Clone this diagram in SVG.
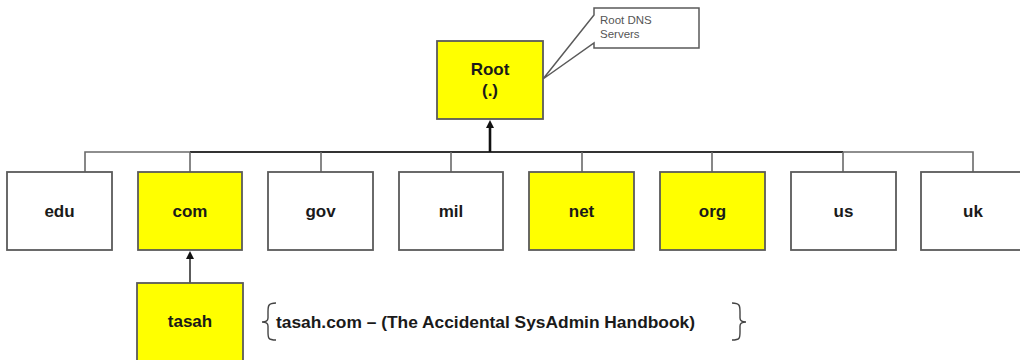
<svg xmlns="http://www.w3.org/2000/svg" width="1020" height="360" viewBox="0 0 1020 360">
<defs>
<style>
.box{stroke:#5a5a5a;stroke-width:1.8}
.y{fill:#ffff00}
.w{fill:#ffffff}
.lbl{font-family:"Liberation Sans",Arial,sans-serif;font-weight:bold;font-size:17px;fill:#1a1a1a;text-anchor:middle}
.thin{stroke:#6a6a6a;stroke-width:1.6;fill:none}
.bus{stroke:#333;stroke-width:2;fill:none}
</style>
<marker id="ah" markerWidth="8" markerHeight="8" refX="4" refY="4" orient="auto" markerUnits="userSpaceOnUse">
<path d="M0,0 L8,4 L0,8 Z" fill="#111"/>
</marker>
</defs>
<rect width="1020" height="360" fill="#fff"/>
<g id="connectors">
<path class="thin" d="M85,172 V152 H190"/>
<path class="bus" d="M190,152 H843"/>
<path class="thin" d="M843,152 H973 V172"/>
<path class="thin" d="M190,152 V172 M321,152 V172 M451,152 V172 M582,152 V172 M712,152 V172 M843,152 V172"/>
<line x1="490" y1="152" x2="490" y2="124" stroke="#111" stroke-width="2.6" marker-end="url(#ah)"/>
<line x1="190" y1="283" x2="190" y2="255" stroke="#333" stroke-width="1.6" marker-end="url(#ah)"/>
</g>
<g id="callout">
<path d="M594,8 H699 V48 H594 V43 L543,79 L594,15 Z" fill="#fff" stroke="#5a5a5a" stroke-width="1.5"/>
<text x="600" y="24" font-family="Liberation Sans,Arial,sans-serif" font-size="11.5" fill="#555">Root DNS</text>
<text x="600" y="38" font-family="Liberation Sans,Arial,sans-serif" font-size="11.5" fill="#555">Servers</text>
</g>
<g id="root">
<rect class="box y" x="437" y="41" width="106" height="78"/>
<text class="lbl" x="490" y="75">Root</text>
<text class="lbl" x="490" y="96">(.)</text>
</g>
<g id="edu"><rect class="box w" x="7" y="172" width="105" height="78"/><text class="lbl" x="59.5" y="217">edu</text></g>
<g id="com"><rect class="box y" x="138" y="172" width="104" height="78"/><text class="lbl" x="190" y="217">com</text></g>
<g id="gov"><rect class="box w" x="268" y="172" width="105" height="78"/><text class="lbl" x="320.5" y="217">gov</text></g>
<g id="mil"><rect class="box w" x="399" y="172" width="104" height="78"/><text class="lbl" x="451" y="217">mil</text></g>
<g id="net"><rect class="box y" x="529" y="172" width="105" height="78"/><text class="lbl" x="581.5" y="217">net</text></g>
<g id="org"><rect class="box y" x="660" y="172" width="105" height="78"/><text class="lbl" x="712.5" y="217">org</text></g>
<g id="us"><rect class="box w" x="791" y="172" width="105" height="78"/><text class="lbl" x="843.5" y="217">us</text></g>
<g id="uk"><rect class="box w" x="921" y="172" width="105" height="78"/><text class="lbl" x="973" y="217">uk</text></g>
<g id="tasah"><rect class="box y" x="137" y="283" width="106" height="85"/><text class="lbl" x="190" y="327">tasah</text></g>
<g id="note">
<path d="M276,303 C268,303 268,306 268,312 L268,318 C268,321 266,322 262,322 C266,322 268,323 268,326 L268,332 C268,338 268,340 276,340" fill="none" stroke="#444" stroke-width="1.4"/>
<text x="276" y="328" font-family="Liberation Sans,Arial,sans-serif" font-weight="bold" font-size="17" fill="#1a1a1a" textLength="419" lengthAdjust="spacingAndGlyphs">tasah.com – (The Accidental SysAdmin Handbook)</text>
<path d="M732,303 C740,303 740,306 740,312 L740,318 C740,321 742,322 746,322 C742,322 740,323 740,326 L740,332 C740,338 740,340 732,340" fill="none" stroke="#444" stroke-width="1.4"/>
</g>
</svg>
